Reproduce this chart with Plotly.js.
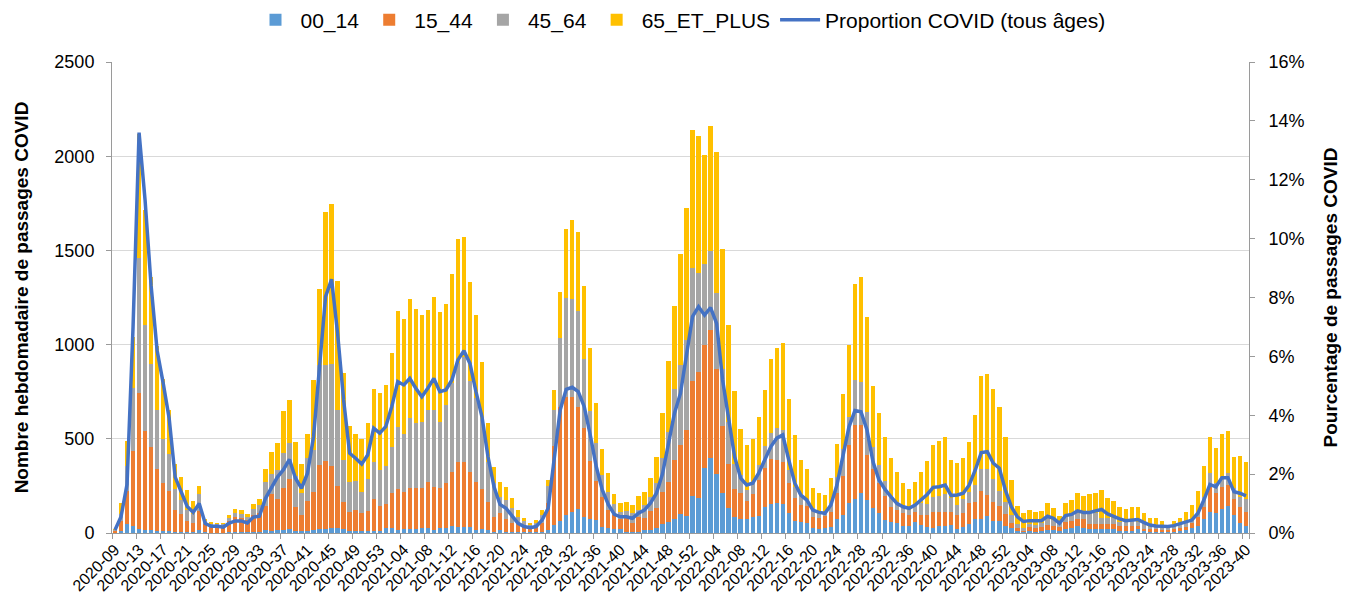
<!DOCTYPE html>
<html>
<head>
<meta charset="utf-8">
<script src="https://cdn.plot.ly/plotly-3.0.1.min.js"></script>
<style>
  html, body { margin: 0; padding: 0; background: #fff; }
  #chart { width: 1357px; height: 603px; }
</style>
</head>
<body>
<div id="chart"></div>
<script>
// weeks shown: 2020-09 .. 2020-53, 2021-01 .. 2021-52, 2022-01 .. 2022-52, 2023-01 .. 2023-40
const yearSpans = [[2020, 9, 53], [2021, 1, 52], [2022, 1, 52], [2023, 1, 40]]
const weeks = []
yearSpans.forEach(([year, first, last]) => {
  for (let w = first; w <= last; w++) weeks.push(`${year}-${String(w).padStart(2, '0')}`)
})
const weekTicks = weeks.filter((w, i) => i % 4 === 0)

// weekly counts per age group
const age0014 = [
  2, 10, 46, 35, 20, 15, 15, 12, 9, 8,
  5, 5, 5, 3, 14, 3, 2, 2, 2, 4,
  4, 4, 3, 5, 6, 14, 12, 14, 16, 19,
  12, 8, 10, 16, 19, 19, 28, 25, 19, 12,
  12, 10, 10, 12, 12, 28, 28, 16, 19, 19,
  19, 28, 28, 16, 25, 28, 37, 34, 30, 30,
  16, 21, 16, 7, 16, 7, 7, 5, 3, 3,
  3, 5, 16, 42, 64, 96, 113, 126, 87, 74,
  69, 34, 28, 19, 19, 5, 5, 7, 16, 16,
  28, 46, 60, 74, 99, 92, 198, 188, 347, 400,
  311, 214, 134, 83, 74, 74, 83, 92, 136, 154,
  157, 154, 104, 64, 60, 51, 28, 19, 28, 34,
  73, 96, 157, 179, 211, 175, 134, 108, 69, 60,
  51, 37, 37, 60, 42, 30, 25, 37, 37, 42,
  19, 30, 48, 73, 73, 92, 64, 64, 39, 25,
  11, 4, 11, 7, 11, 16, 16, 12, 19, 28,
  37, 25, 19, 19, 19, 19, 19, 12, 12, 12,
  19, 11, 7, 7, 7, 7, 7, 12, 16, 25,
  39, 74, 110, 104, 126, 145, 96, 51, 37
]
const age1544 = [
  8, 54, 175, 400, 725, 525, 440, 326, 256, 213,
  115, 98, 59, 50, 103, 45, 38, 35, 34, 60,
  80, 75, 65, 90, 100, 128, 197, 168, 221, 268,
  125, 89, 160, 203, 342, 363, 328, 224, 147, 98,
  110, 94, 107, 168, 131, 126, 183, 216, 200, 218,
  218, 209, 244, 226, 212, 239, 288, 345, 349, 292,
  256, 211, 150, 80, 92, 66, 44, 50, 31, 16,
  31, 46, 141, 420, 603, 628, 611, 544, 468, 310,
  209, 155, 94, 77, 54, 73, 50, 80, 62, 101,
  103, 173, 212, 313, 368, 455, 610, 668, 651, 677,
  558, 354, 232, 151, 137, 96, 122, 189, 207, 237,
  230, 225, 160, 120, 89, 94, 55, 59, 62, 79,
  141, 206, 310, 394, 362, 239, 204, 156, 129, 80,
  71, 67, 59, 50, 54, 66, 88, 76, 76, 68,
  77, 74, 109, 93, 150, 110, 102, 79, 62, 26,
  17, 7, 19, 18, 19, 26, 21, 22, 38, 37,
  37, 49, 29, 29, 29, 29, 29, 25, 27, 27,
  20, 10, 14, 12, 9, 9, 14, 13, 18, 26,
  48, 66, 136, 107, 120, 110, 84, 89, 73
]
const age4564 = [
  5, 39, 133, 337, 715, 563, 442, 313, 232, 200,
  112, 74, 60, 50, 92, 16, 10, 9, 10, 18,
  22, 20, 17, 30, 40, 128, 106, 151, 189, 189,
  168, 113, 230, 221, 531, 510, 541, 404, 221, 162,
  156, 115, 170, 199, 191, 202, 247, 332, 306, 372,
  345, 354, 381, 411, 354, 412, 473, 521, 557, 486,
  443, 375, 213, 177, 85, 102, 80, 32, 31, 23,
  21, 45, 92, 191, 370, 525, 518, 508, 370, 263,
  198, 119, 97, 58, 40, 39, 53, 35, 71, 76,
  133, 177, 266, 375, 425, 477, 600, 522, 430, 420,
  403, 301, 225, 132, 97, 58, 67, 80, 119, 141,
  168, 168, 70, 62, 53, 30, 48, 21, 14, 44,
  85, 142, 150, 239, 230, 226, 120, 97, 78, 53,
  44, 27, 26, 40, 61, 58, 80, 83, 92, 74,
  53, 75, 59, 89, 117, 138, 121, 80, 62, 45,
  20, 14, 18, 17, 21, 36, 32, 26, 30, 31,
  34, 27, 56, 56, 30, 30, 30, 23, 26, 26,
  21, 30, 13, 15, 9, 9, 13, 17, 21, 18,
  17, 53, 71, 53, 53, 65, 57, 53, 70
]
const age65plus = [
  5, 57, 134, 269, 660, 610, 462, 344, 321, 234,
  133, 120, 103, 65, 39, 10, 8, 7, 7, 15,
  20, 21, 18, 27, 36, 68, 115, 145, 224, 230,
  177, 156, 124, 372, 401, 810, 849, 684, 460, 296,
  246, 278, 299, 385, 407, 429, 495, 614, 611, 635,
  605, 564, 530, 598, 580, 536, 575, 662, 637, 524,
  440, 300, 203, 84, 76, 67, 57, 35, 15, 9,
  14, 26, 32, 106, 240, 364, 421, 418, 386, 335,
  212, 138, 98, 51, 48, 49, 39, 76, 70, 99,
  141, 239, 377, 443, 589, 701, 731, 729, 576, 665,
  748, 638, 513, 388, 244, 239, 227, 253, 297, 390,
  427, 461, 379, 274, 187, 163, 110, 112, 96, 137,
  175, 292, 379, 511, 557, 508, 324, 278, 232, 203,
  159, 133, 113, 119, 168, 228, 272, 290, 306, 203,
  224, 221, 265, 373, 495, 506, 475, 444, 348, 185,
  97, 79, 74, 71, 68, 79, 62, 32, 70, 79,
  106, 97, 101, 106, 148, 109, 92, 76, 61, 71,
  76, 53, 47, 47, 39, 17, 30, 39, 55, 80,
  117, 163, 194, 185, 225, 220, 168, 217, 195
]
// share of COVID visits, all ages (%)
const propCovid = [
  0.1, 0.55, 1.65, 7.0, 13.6, 11.3, 8.4, 6.2, 5.1, 3.9,
  1.9, 1.4, 0.9, 0.7, 1.0, 0.32, 0.23, 0.23, 0.2, 0.34,
  0.41, 0.41, 0.34, 0.54, 0.57, 1.17, 1.56, 1.9, 2.15, 2.5,
  1.86, 1.52, 2.03, 3.27, 5.65, 8.03, 8.62, 6.78, 4.52, 2.71,
  2.54, 2.34, 2.65, 3.56, 3.39, 3.61, 4.29, 5.14, 5.03, 5.25,
  4.92, 4.63, 4.92, 5.25, 4.8, 4.86, 5.2, 5.88, 6.19, 5.76,
  4.8, 3.95, 2.59, 1.57, 0.97, 0.84, 0.58, 0.33, 0.22, 0.18,
  0.22, 0.44, 0.84, 2.42, 4.18, 4.88, 4.95, 4.8, 4.29, 3.33,
  2.25, 1.46, 0.97, 0.63, 0.55, 0.55, 0.5, 0.67, 0.78, 1.01,
  1.35, 2.0, 2.99, 4.07, 4.75, 6.1, 7.35, 7.69, 7.4, 7.66,
  7.12, 5.2, 3.95, 2.59, 1.86, 1.63, 1.69, 2.03, 2.48, 2.93,
  3.22, 3.33, 2.48, 1.69, 1.29, 1.12, 0.78, 0.7, 0.67, 0.95,
  1.63, 2.65, 3.6, 4.16, 4.12, 3.5, 2.42, 1.8, 1.48, 1.23,
  1.0, 0.89, 0.84, 0.95, 1.12, 1.31, 1.55, 1.57, 1.63, 1.27,
  1.29, 1.35, 1.63, 2.14, 2.73, 2.76, 2.37, 2.2, 1.46, 0.89,
  0.55, 0.39, 0.42, 0.42, 0.42, 0.57, 0.5, 0.33, 0.59, 0.63,
  0.75, 0.7, 0.7, 0.75, 0.8, 0.65, 0.55, 0.48, 0.42, 0.44,
  0.46, 0.36, 0.27, 0.24, 0.22, 0.22, 0.25, 0.31, 0.35, 0.44,
  0.67, 1.12, 1.65, 1.57, 1.88, 1.88, 1.4, 1.35, 1.26
]

const groups = [
  {name: '00_14', y: age0014, color: '#5B9BD5'},
  {name: '15_44', y: age1544, color: '#ED7D31'},
  {name: '45_64', y: age4564, color: '#A5A5A5'},
  {name: '65_ET_PLUS', y: age65plus, color: '#FFC000'}
]

const traces = groups.map((g) => ({
  type: 'bar',
  x: weeks,
  y: g.y,
  name: g.name,
  marker: {color: g.color},
  hoverinfo: 'x+y+name'
}))
traces.push({
  type: 'scatter',
  mode: 'lines',
  x: weeks,
  y: propCovid,
  yaxis: 'y2',
  name: 'Proportion COVID (tous âges)',
  line: {color: '#4472C4', width: 3.5}
})

const axisGrey = '#9a9a9a'
const layout = {
  width: 1357,
  height: 603,
  margin: {l: 112, r: 108, t: 62, b: 70, autoexpand: false},
  barmode: 'stack',
  bargap: 0.28,
  paper_bgcolor: '#fff',
  plot_bgcolor: '#fff',
  font: {family: 'Liberation Sans, Arial, sans-serif', size: 18, color: '#000'},
  legend: {
    orientation: 'h',
    x: 0.5,
    xanchor: 'center',
    y: 1.089,
    yanchor: 'middle',
    traceorder: 'normal',
    itemwidth: 40,
    font: {size: 21}
  },
  xaxis: {
    type: 'category',
    tickmode: 'array',
    tickvals: weekTicks,
    tickson: 'boundaries',
    tickangle: -45,
    tickfont: {size: 16},
    ticks: 'outside',
    ticklen: 5,
    tickcolor: axisGrey,
    showline: true,
    linecolor: axisGrey,
    showgrid: false,
    automargin: false
  },
  yaxis: {
    range: [0, 2500],
    tickmode: 'linear',
    tick0: 0,
    dtick: 500,
    ticks: 'outside',
    ticklen: 5,
    tickcolor: axisGrey,
    ticklabelstandoff: 8,
    showline: true,
    linecolor: axisGrey,
    gridcolor: '#d9d9d9',
    zeroline: false,
    automargin: false,
    title: {text: 'Nombre hebdomadaire de passages COVID', font: {size: 19, weight: 'bold'}, standoff: 20}
  },
  yaxis2: {
    overlaying: 'y',
    side: 'right',
    range: [0, 16],
    tickmode: 'linear',
    tick0: 0,
    dtick: 2,
    ticksuffix: '%',
    ticks: 'outside',
    ticklen: 5,
    tickcolor: axisGrey,
    ticklabelstandoff: 10,
    showline: true,
    linecolor: axisGrey,
    showgrid: false,
    zeroline: false,
    automargin: false,
    title: {text: 'Pourcentage de passages COVID', font: {size: 19, weight: 'bold'}, standoff: 20}
  }
}

Plotly.newPlot('chart', traces, layout, {displayModeBar: false, staticPlot: true})
</script>
</body>
</html>
